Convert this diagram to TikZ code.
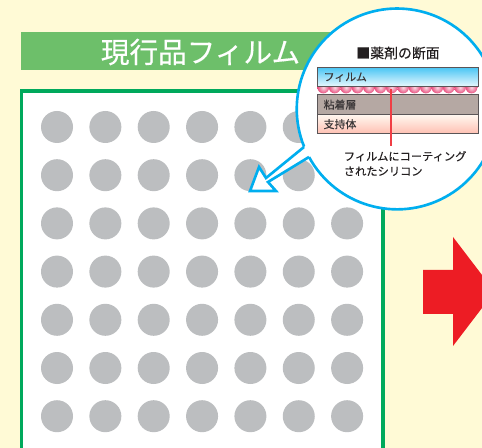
\documentclass[tikz,border=0pt]{standalone}
\usepackage{fontspec}
\usepackage{xcolor}
\usetikzlibrary{positioning}
\newfontfamily\jpfont{Noto Sans CJK JP}
\newfontfamily\jpheavy[FakeBold=0.25]{Noto Sans CJK JP}
\definecolor{paperbg}{HTML}{FFFAD6}
\definecolor{barcol}{HTML}{6DBF6A}
\definecolor{framecol}{HTML}{00A95C}
\definecolor{dotcol}{HTML}{BCBEC0}
\definecolor{lenscol}{HTML}{00AEEF}
\definecolor{arrowcol}{HTML}{ED1C24}
\definecolor{inkcol}{HTML}{231F20}
\definecolor{edgecol}{HTML}{5A5557}
\definecolor{gluecol}{HTML}{B5A8A3}
\definecolor{beadcol}{HTML}{E8507F}
\tikzset{
  layerbox/.style={draw=edgecol, line width=0.75pt, minimum width=3.22cm, inner sep=0pt,
    text width=2.98cm, align=left, anchor=north west, font=\jpheavy\fontsize{6.2}{7}\selectfont, text=inkcol!90},
  lenstext/.style={anchor=west, inner sep=0pt, font=\jpheavy\fontsize{6.4}{8.5}\selectfont, text=inkcol, align=left},
}
\begin{document}
\begin{tikzpicture}[x=0.02cm,y=-0.02cm]
  \clip (0,0) rectangle (482,448);
  \fill[paperbg] (0,0) rectangle (482,448);

  % ---- LEFT: film panel ----
  \fill[barcol] (21,32) rectangle (345,70);
  \node[anchor=center, inner sep=0pt, text=white, font=\jpheavy\fontsize{16.3}{18}\selectfont] (filmtitle) at (200.5,52) {現行品フィルム};
  \draw[framecol, line width=1.8pt, fill=white] (21.5,91) rectangle (383,470);
  % Dots
  \foreach \x in {0,...,6} {
    \foreach \y in {0,...,6} {
      \fill[dotcol] ({57+48.35*\x},{127+48.2*\y}) circle (16);
    }
  }

  % ---- Big red arrow ----
  \fill[arrowcol] (423,270) -- (453,270) -- (453,237) -- (494.6,291.5) -- (453,346) -- (453,314) -- (423,314) -- cycle;

  % ---- Magnifier ----
  \coordinate (lens) at (397.4,109);
  \fill[white] (lens) circle (100.4);
  \draw[lenscol, line width=1.5pt] (309,157) arc[start angle=151.4, end angle=-208, radius=100.4];
  % Tail with outlined arrow head
  \fill[white] (304,147) -- (266,178) -- (259,167) -- (250,191) -- (276,191) -- (268,182) -- (309,157) -- (330,130) -- cycle;
  \draw[lenscol, line width=1.5pt, line join=miter] (304,147) -- (266,178) -- (259,167) -- (250,191) -- (276,191) -- (268,182) -- (309,157);

  % ---- Cross section ----
  \node[anchor=center, inner sep=0pt, text=inkcol, font=\jpheavy\fontsize{7.9}{9}\selectfont] (sectitle) at (398,53) {■薬剤の断面};
  \fill[beadcol!70!white] (317,85) rectangle (478,88);
  \foreach \i in {0,...,13} {
    \shade[inner color=beadcol!22!white, outer color=beadcol] ({323.3+11.4*\i},87.6) circle (5.8);
  }
  \node[layerbox, top color=lenscol!70, bottom color=lenscol!8, minimum height=0.38cm] (filmlayer) at (317,67) {フィルム};
  \node[layerbox, fill=gluecol, minimum height=0.4cm] (gluelayer) at (317,94) {粘着層};
  \node[layerbox, top color=orange!6, bottom color=orange!35!red!30, minimum height=0.38cm] (baselayer) at (317,114) {支持体};

  % Pointer to the coating
  \coordinate (beadtop) at (391,89);
  \node[lenstext] (caption) at (343.5,163.5) {フィルムにコーティング\\されたシリコン};
  \coordinate (pointerend) at (391,146);
  \draw[arrowcol!85!white, line width=0.8pt] (beadtop) -- (pointerend);
\end{tikzpicture}
\end{document}
